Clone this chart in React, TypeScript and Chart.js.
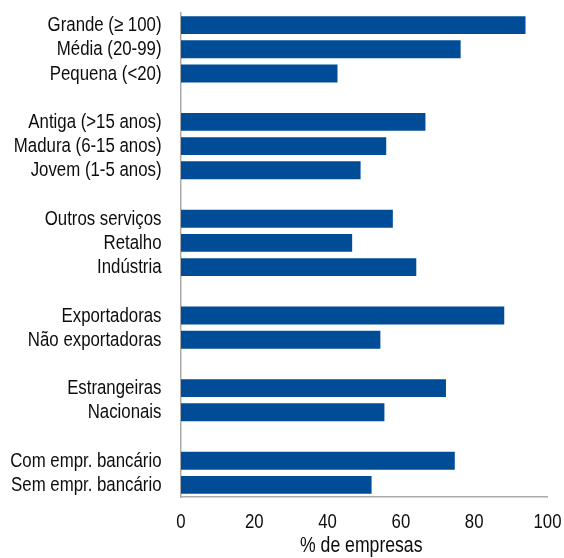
import React, { useEffect, useRef } from "react";
import { Chart, registerables } from "chart.js";

Chart.register(...registerables);

// Row labels, top to bottom; empty strings are spacer rows between groups
const categories: string[] = [
  "Grande (≥ 100)",
  "Média (20-99)",
  "Pequena (<20)",
  "",
  "Antiga (>15 anos)",
  "Madura (6-15 anos)",
  "Jovem (1-5 anos)",
  "",
  "Outros serviços",
  "Retalho",
  "Indústria",
  "",
  "Exportadoras",
  "Não exportadoras",
  "",
  "Estrangeiras",
  "Nacionais",
  "",
  "Com empr. bancário",
  "Sem empr. bancário",
];

// Share of firms (%) for each row; null for spacer rows
const shares: (number | null)[] = [
  94.0, 76.3, 42.7, null,
  66.7, 56.0, 49.0, null,
  57.8, 46.7, 64.2, null,
  88.2, 54.4, null,
  72.3, 55.5, null,
  74.7, 52.0,
];

const xTicks: number[] = [0, 20, 40, 60, 80, 100];
const xTitle = "% de empresas";

const FONT_FAMILY = "'Liberation Sans', Arial, sans-serif";
const BAR_COLOR = "#004C97";
const AXIS_COLOR = "#ABABAB";
const TEXT_COLOR = "#0d0d0d";

// Draws a line of text squeezed horizontally, giving a narrow typeface look
function drawNarrow(
  ctx: CanvasRenderingContext2D,
  text: string,
  x: number,
  y: number,
  align: CanvasTextAlign,
  size: number,
  squeeze: number
) {
  ctx.save();
  ctx.translate(x, y);
  ctx.scale(squeeze, 1);
  ctx.font = `${size}px ${FONT_FAMILY}`;
  ctx.textAlign = align;
  ctx.textBaseline = "middle";
  ctx.fillStyle = TEXT_COLOR;
  ctx.fillText(text, 0, 0);
  ctx.restore();
}

// Axis labels and title in narrow lettering, placed with the chart's own scales
const narrowLabels = {
  id: "narrowLabels",
  afterDraw(chart: any) {
    const ctx = chart.ctx as CanvasRenderingContext2D;
    const yScale = chart.scales.y;
    const xScale = chart.scales.x;
    const area = chart.chartArea;

    categories.forEach((label, i) => {
      if (!label) return;
      drawNarrow(ctx, label, area.left - 19.5, yScale.getPixelForValue(i) + 0.5, "right", 20.5, 0.82);
    });

    xTicks.forEach((v) => {
      drawNarrow(ctx, String(v), xScale.getPixelForValue(v), area.bottom + 26, "center", 19.5, 0.86);
    });

    drawNarrow(ctx, xTitle, (area.left + area.right) / 2 - 3, area.bottom + 49, "center", 21.5, 0.82);
  },
};

const zeroPadding = (scale: any) => {
  scale.paddingTop = 0;
  scale.paddingBottom = 0;
  scale.paddingLeft = 0;
  scale.paddingRight = 0;
};

export default function App() {
  const canvasRef = useRef<HTMLCanvasElement | null>(null);

  useEffect(() => {
    if (!canvasRef.current) return;
    const chart = new Chart(canvasRef.current, {
      type: "bar",
      data: {
        labels: categories,
        datasets: [
          {
            data: shares,
            backgroundColor: BAR_COLOR,
            borderWidth: 0,
            barPercentage: 0.74,
            categoryPercentage: 1,
          },
        ],
      },
      options: {
        indexAxis: "y",
        animation: false,
        responsive: false,
        maintainAspectRatio: false,
        layout: { padding: { top: 13, right: 16.5, left: 0, bottom: 0 } },
        plugins: {
          legend: { display: false },
          tooltip: { enabled: false },
        },
        scales: {
          y: {
            type: "category",
            grid: { display: false, drawTicks: false },
            border: { display: true, color: AXIS_COLOR, width: 1.5 },
            ticks: { display: false, autoSkip: false },
            afterFit: (scale: any) => {
              scale.width = 181;
              zeroPadding(scale);
            },
          },
          x: {
            type: "linear",
            min: 0,
            max: 100,
            grid: { display: false, drawTicks: false },
            border: { display: true, color: AXIS_COLOR, width: 1.5 },
            afterBuildTicks: (axis: any) => {
              axis.ticks = xTicks.map((v) => ({ value: v }));
            },
            ticks: { display: false },
            afterFit: (scale: any) => {
              scale.height = 61;
              zeroPadding(scale);
            },
          },
        },
      },
      plugins: [narrowLabels],
    });
    return () => chart.destroy();
  }, []);

  return (
    <div style={{ position: "fixed", left: 0, top: 0, width: 564, height: 558, background: "#ffffff" }}>
      <canvas ref={canvasRef} width={564} height={558} style={{ display: "block" }} />
    </div>
  );
}
